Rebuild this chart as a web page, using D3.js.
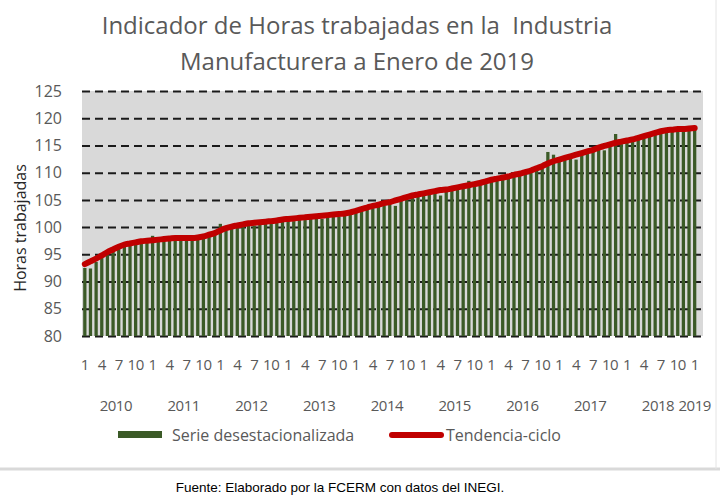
<!DOCTYPE html>
<html>
<head>
<meta charset="utf-8">
<script src="https://cdn.jsdelivr.net/npm/d3@7"></script>
<style>
    body { margin: 0; background: #fff; }
    text { font-family: "Open Sans", sans-serif; }
</style>
</head>
<body>
<div id="chart"></div>
<script>

// años del eje y meses que se rotulan
const years = [2010, 2011, 2012, 2013, 2014, 2015, 2016, 2017, 2018, 2019];
const shownMonths = [1, 4, 7, 10];
const yTicks = [80, 85, 90, 95, 100, 105, 110, 115, 120, 125];

// Serie desestacionalizada, ene 2010 - ene 2019
const serie = [
    92.5, 92.4, 93.6, 94.4, 95.0, 95.6, 96.1, 96.5, 96.6, 96.9, 97.0, 97.1,
    98.4, 97.3, 97.4, 97.6, 97.7, 97.6, 97.7, 97.5, 97.8, 98.0, 98.2, 98.6,
    100.6, 99.4, 99.8, 100.0, 100.1, 100.4, 100.3, 100.6, 100.7, 100.6, 100.9, 101.0,
    101.2, 101.1, 101.4, 101.3, 101.6, 101.7, 101.5, 101.9, 102.0, 101.9, 102.1, 102.4,
    102.6, 103.0, 103.3, 103.5, 103.8, 104.0, 104.3, 103.9, 104.9, 105.0, 105.4, 105.7,
    105.9, 106.1, 106.3, 105.8, 106.5, 106.8, 106.9, 107.1, 108.5, 107.5, 107.8, 108.0,
    108.3, 108.6, 108.7, 109.0, 109.3, 109.4, 109.8, 110.1, 110.5, 110.8, 113.8, 113.3,
    112.1, 112.4, 112.7, 112.4, 113.3, 113.6, 113.9, 114.3, 114.1, 114.8, 117.1, 115.3,
    115.6, 115.8, 116.1, 116.4, 116.7, 117.0, 117.3, 117.5, 117.6, 117.7, 117.7, 117.8,
    117.9
];

// Tendencia-ciclo
const tendencia = [
    93.2, 93.7, 94.2, 94.8, 95.4, 95.9, 96.4, 96.8, 97.0, 97.2, 97.4, 97.5,
    97.6, 97.7, 97.8, 97.9, 98.0, 98.0, 98.0, 98.0, 98.1, 98.3, 98.6, 98.9,
    99.4, 99.8, 100.1, 100.3, 100.5, 100.7, 100.8, 100.9, 101.0, 101.1, 101.2, 101.4,
    101.5, 101.6, 101.7, 101.8, 101.9, 102.0, 102.1, 102.2, 102.3, 102.4, 102.5, 102.7,
    103.0, 103.3, 103.6, 103.9, 104.1, 104.4, 104.6, 104.9, 105.2, 105.5, 105.8, 106.0,
    106.2, 106.4, 106.6, 106.8, 106.9, 107.1, 107.3, 107.5, 107.7, 107.9, 108.1, 108.4,
    108.7, 108.9, 109.1, 109.3, 109.6, 109.8, 110.1, 110.4, 110.8, 111.2, 111.7, 112.1,
    112.4, 112.7, 113.0, 113.3, 113.6, 113.9, 114.2, 114.6, 114.9, 115.2, 115.5, 115.7,
    115.9, 116.1, 116.4, 116.7, 117.0, 117.3, 117.6, 117.8, 117.9, 118.0, 118.0, 118.1,
    118.2
];

class HorasVis {

    constructor(_parentElement) {
        this.parentElement = _parentElement;
        this.initVis();
    }

    initVis() {
        let vis = this;

        vis.width = 720;
        vis.height = 504;
        vis.plot = {left: 82, right: 703, top: 91, bottom: 336};

        vis.svg = d3.select("#" + vis.parentElement).append("svg")
            .attr("width", vis.width)
            .attr("height", vis.height);

        // categorias mensuales
        vis.cats = [];
        years.forEach(y => {
            let months = y === 2019 ? [1] : d3.range(1, 13);
            months.forEach(m => vis.cats.push({year: y, month: m, key: y + "-" + m}));
        });
        vis.data = vis.cats.map((c, i) => ({...c, serie: serie[i], tend: tendencia[i]}));

        vis.x = d3.scaleBand()
            .domain(vis.cats.map(d => d.key))
            .range([vis.plot.left, 697.5])
            .paddingInner(0.42)
            .paddingOuter(0.21);

        vis.y = d3.scaleLinear()
            .domain([80, 125])
            .range([vis.plot.bottom, vis.plot.top]);

        vis.updateVis();
    }

    updateVis() {
        let vis = this;
        let gray = "#595959";

        // marco
        vis.svg.append("line")
            .attr("x1", 0).attr("x2", vis.width)
            .attr("y1", 469).attr("y2", 469)
            .attr("stroke", "#d9d9d9").attr("stroke-width", 3);
        vis.svg.append("line")
            .attr("x1", 716).attr("x2", 716)
            .attr("y1", 0).attr("y2", 469)
            .attr("stroke", "#e4e4e4").attr("stroke-width", 1);

        // titulo
        let title = vis.svg.append("text")
            .attr("text-anchor", "middle")
            .attr("fill", gray)
            .style("font-size", "24px");
        title.append("tspan").attr("x", 357).attr("y", 34)
            .text("Indicador de Horas trabajadas en la  Industria")
            .style("white-space", "pre");
        title.append("tspan").attr("x", 357).attr("y", 70)
            .text("Manufacturera a Enero de 2019");

        // fondo
        vis.svg.append("rect")
            .attr("x", vis.plot.left)
            .attr("y", vis.plot.top)
            .attr("width", vis.plot.right - vis.plot.left)
            .attr("height", vis.plot.bottom - vis.plot.top)
            .attr("fill", "#d9d9d9");

        // eje y + rejilla
        vis.yAxis = d3.axisLeft(vis.y)
            .tickValues(yTicks)
            .tickSize(-(vis.plot.right - vis.plot.left))
            .tickPadding(20);

        let yg = vis.svg.append("g")
            .attr("class", "y-axis axis")
            .attr("transform", "translate(" + vis.plot.left + ",0)")
            .call(vis.yAxis);
        yg.select(".domain").remove();
        yg.selectAll("line")
            .attr("stroke", "#1a1a1a")
            .attr("stroke-width", 2)
            .attr("stroke-dasharray", "8,5");
        yg.selectAll("text")
            .attr("fill", gray)
            .style("font-size", "16px");

        vis.svg.append("text")
            .attr("transform", "translate(26,228) rotate(-90)")
            .attr("text-anchor", "middle")
            .attr("fill", "#262626")
            .style("font-size", "16px")
            .text("Horas trabajadas");

        // barras
        vis.svg.selectAll(".bars")
            .data(vis.data)
            .enter()
            .append("rect")
            .attr("class", "bars")
            .attr("fill", "#3b5a27")
            .attr("x", d => vis.x(d.key))
            .attr("y", d => vis.y(d.serie))
            .attr("width", vis.x.bandwidth())
            .attr("height", d => vis.plot.bottom - vis.y(d.serie));

        // tendencia
        let line = d3.line()
            .x(d => vis.x(d.key) + vis.x.bandwidth() / 2)
            .y(d => vis.y(d.tend))
            .curve(d3.curveMonotoneX);

        vis.svg.append("path")
            .datum(vis.data)
            .attr("fill", "none")
            .attr("stroke", "#c00000")
            .attr("stroke-width", 6)
            .attr("stroke-linecap", "round")
            .attr("stroke-linejoin", "round")
            .attr("d", line);

        // eje x: meses
        vis.xAxis = d3.axisBottom(vis.x)
            .tickValues(vis.cats.filter(d => shownMonths.includes(d.month)).map(d => d.key))
            .tickFormat(k => k.split("-")[1])
            .tickSize(0)
            .tickPadding(23);

        let xg = vis.svg.append("g")
            .attr("class", "x-axis axis")
            .attr("transform", "translate(0," + vis.plot.bottom + ")")
            .call(vis.xAxis);
        xg.select(".domain").remove();
        xg.selectAll("text")
            .attr("fill", gray)
            .style("font-size", "15px")
            .style("letter-spacing", "-0.5px");

        // eje x: años
        vis.svg.selectAll(".year-label")
            .data(years)
            .enter()
            .append("text")
            .attr("class", "year-label")
            .attr("text-anchor", "middle")
            .attr("fill", gray)
            .style("font-size", "15px")
            .style("letter-spacing", "-0.5px")
            .attr("x", y => {
                let ks = vis.cats.filter(c => c.year === y);
                return (vis.x(ks[0].key) + vis.x(ks[ks.length - 1].key) + vis.x.bandwidth()) / 2;
            })
            .attr("y", 411)
            .text(y => y);

        // leyenda
        vis.svg.append("rect")
            .attr("x", 118).attr("y", 431)
            .attr("width", 44).attr("height", 7)
            .attr("fill", "#3b5a27");
        vis.svg.append("text")
            .attr("x", 172).attr("y", 441)
            .attr("fill", gray)
            .style("font-size", "16px")
            .text("Serie desestacionalizada");
        vis.svg.append("line")
            .attr("x1", 392).attr("x2", 441)
            .attr("y1", 435).attr("y2", 435)
            .attr("stroke", "#c00000")
            .attr("stroke-width", 6)
            .attr("stroke-linecap", "round");
        vis.svg.append("text")
            .attr("x", 446).attr("y", 441)
            .attr("fill", gray)
            .style("font-size", "16px")
            .text("Tendencia-ciclo");

        // fuente
        vis.svg.append("text")
            .attr("x", 340).attr("y", 492)
            .attr("text-anchor", "middle")
            .attr("fill", "#000")
            .style("font-family", "'Liberation Sans', Arial, sans-serif")
            .style("font-size", "13.5px")
            .text("Fuente: Elaborado por la FCERM con datos del INEGI.");
    }
}

new HorasVis("chart");
</script>
</body>
</html>
